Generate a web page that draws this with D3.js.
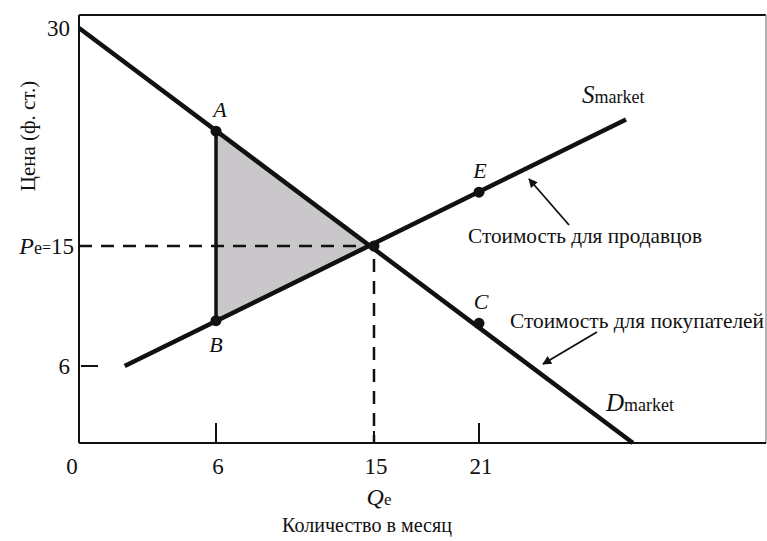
<!DOCTYPE html>
<html>
<head>
<meta charset="utf-8">
<style>
  body { margin: 0; background: #fff; }
  text { font-family: "Liberation Serif", "DejaVu Serif", serif; fill: #111; }
</style>
</head>
<body>
<svg id="chart" width="767" height="541"></svg>
<script src="https://cdn.jsdelivr.net/npm/d3@7"></script>
<script>
// data (quantity per month, price in pounds)
const xTicks = [0, 6, 15, 21];
const yTicks = [6, 15, 30];
const demand = [[0, 30], [29.8, 0]];
const supply = [[2, 6], [29.4, 23.7]];
const equilibrium = [15, 15];
const points = [
  {name: "A", q: 6, p: 22.9},
  {name: "B", q: 6, p: 9.4},
  {name: "E", q: 21, p: 18.7},
  {name: "C", q: 21, p: 9.2}
];
const surplus = [[6, 22.9], [15, 15], [6, 9.4]];

const svg = d3.select("#chart");

// the drawing is schematic, so the axes are piecewise linear
const x = d3.scaleLinear().domain([0, 6, 15, 21]).range([79, 216, 374, 479]);
const y = d3.scaleLinear().domain([0, 6, 15, 30]).range([443, 366, 246, 28]);

const line = d3.line().x(d => x(d[0])).y(d => y(d[1]));

// arrow marker
svg.append("defs").append("marker")
  .attr("id", "arr")
  .attr("viewBox", "0 0 10 10")
  .attr("refX", 9).attr("refY", 5)
  .attr("markerWidth", 10).attr("markerHeight", 9)
  .attr("markerUnits", "userSpaceOnUse")
  .attr("orient", "auto")
  .append("path").attr("d", "M0,0 L10,5 L0,10 Z").attr("fill", "#111");

// shaded triangle
svg.append("path")
  .attr("d", line(surplus) + "Z")
  .attr("fill", "#c9c7ca");

// frame
svg.append("line").attr("x1", 79).attr("x2", 766).attr("y1", 15).attr("y2", 15)
  .attr("stroke", "#111").attr("stroke-width", 2);
svg.append("line").attr("x1", 766).attr("x2", 766).attr("y1", 15).attr("y2", 443)
  .attr("stroke", "#999").attr("stroke-width", 1.5);
svg.append("line").attr("x1", 79).attr("x2", 79).attr("y1", 15).attr("y2", 443)
  .attr("stroke", "#111").attr("stroke-width", 2);
svg.append("line").attr("x1", 79).attr("x2", 766).attr("y1", 443).attr("y2", 443)
  .attr("stroke", "#111").attr("stroke-width", 2);

// ticks
svg.selectAll(".xt").data(xTicks.filter(d => d > 0)).enter().append("line")
  .attr("x1", d => x(d)).attr("x2", d => x(d))
  .attr("y1", d => d === 15 ? 431 : 423).attr("y2", 443)
  .attr("stroke", "#111").attr("stroke-width", 2);
svg.append("line").attr("x1", 81).attr("x2", 98).attr("y1", y(6)).attr("y2", y(6))
  .attr("stroke", "#111").attr("stroke-width", 2);

// tick labels
svg.selectAll(".xl").data(xTicks).enter().append("text")
  .attr("x", d => d === 0 ? 72 : x(d) + 2).attr("y", 474)
  .attr("text-anchor", "middle").attr("font-size", 23)
  .text(d => d);
svg.selectAll(".yl").data(yTicks.filter(d => d !== 15)).enter().append("text")
  .attr("x", 70).attr("y", d => y(d) + 8)
  .attr("text-anchor", "end").attr("font-size", 23)
  .text(d => d);
const pe = svg.append("text").attr("x", 74).attr("y", y(15) + 8)
  .attr("text-anchor", "end").attr("font-size", 23);
pe.append("tspan").attr("font-style", "italic").attr("font-size", 24).text("P");
pe.append("tspan").attr("font-size", 18).text("e");
pe.append("tspan").attr("font-size", 16).attr("dy", -1).text("=");
pe.append("tspan").attr("dy", 1).text("15");

// dashed equilibrium lines
svg.append("path")
  .attr("d", `M${x(0)},${y(equilibrium[1])}H${x(equilibrium[0])}V${y(0)}`)
  .attr("fill", "none").attr("stroke", "#111").attr("stroke-width", 2.5)
  .attr("stroke-dasharray", "13,9");

// A-B vertical
svg.append("line")
  .attr("x1", x(6)).attr("x2", x(6)).attr("y1", y(22.9)).attr("y2", y(9.4))
  .attr("stroke", "#111").attr("stroke-width", 3.5);

// demand and supply
[demand, supply].forEach(d => {
  svg.append("path").attr("d", line(d))
    .attr("fill", "none").attr("stroke", "#111").attr("stroke-width", 4.5);
});

// points
svg.selectAll(".pt").data(points.concat([{name: "", q: equilibrium[0], p: equilibrium[1]}]))
  .enter().append("circle")
  .attr("cx", d => x(d.q)).attr("cy", d => y(d.p)).attr("r", 5.5)
  .attr("fill", "#111");

const labelOff = {A: [4, -14], B: [0, 31], E: [1, -14], C: [2, -14]};
svg.selectAll(".pl").data(points).enter().append("text")
  .attr("x", d => x(d.q) + labelOff[d.name][0])
  .attr("y", d => y(d.p) + labelOff[d.name][1])
  .attr("text-anchor", "middle").attr("font-size", 22).attr("font-style", "italic")
  .text(d => d.name);

// curve labels
const sl = svg.append("text").attr("x", 582).attr("y", 103);
sl.append("tspan").attr("font-style", "italic").attr("font-size", 25).text("S");
sl.append("tspan").attr("font-size", 18).text("market");
const dl = svg.append("text").attr("x", 606).attr("y", 411);
dl.append("tspan").attr("font-style", "italic").attr("font-size", 25).text("D");
dl.append("tspan").attr("font-size", 18).text("market");

// annotations
svg.append("text").attr("x", 468).attr("y", 243).attr("font-size", 21)
  .attr("textLength", 234).attr("lengthAdjust", "spacingAndGlyphs")
  .text("Стоимость для продавцов");
svg.append("line").attr("x1", 569).attr("y1", 225).attr("x2", 529).attr("y2", 179)
  .attr("stroke", "#111").attr("stroke-width", 1.8).attr("marker-end", "url(#arr)");
svg.append("text").attr("x", 510).attr("y", 328).attr("font-size", 21)
  .attr("textLength", 254).attr("lengthAdjust", "spacingAndGlyphs")
  .text("Стоимость для покупателей");
svg.append("line").attr("x1", 597).attr("y1", 332).attr("x2", 543).attr("y2", 364)
  .attr("stroke", "#111").attr("stroke-width", 1.8).attr("marker-end", "url(#arr)");

// axis titles
const qe = svg.append("text").attr("x", 379).attr("y", 505).attr("text-anchor", "middle");
qe.append("tspan").attr("font-style", "italic").attr("font-size", 24).text("Q");
qe.append("tspan").attr("font-size", 17).text("e");
svg.append("text").attr("x", 367).attr("y", 532).attr("text-anchor", "middle")
  .attr("font-size", 21).attr("textLength", 170).attr("lengthAdjust", "spacingAndGlyphs")
  .text("Количество в месяц");
svg.append("text")
  .attr("transform", "translate(35,136) rotate(-90)")
  .attr("text-anchor", "middle").attr("font-size", 21)
  .text("Цена (ф. ст.)");
</script>
</body>
</html>
